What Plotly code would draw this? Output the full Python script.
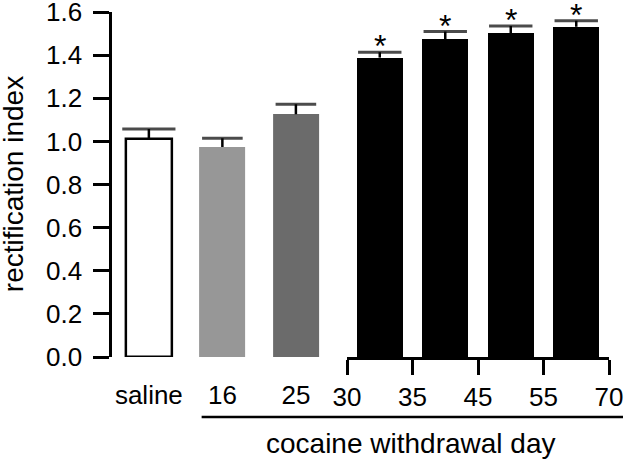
import plotly.graph_objects as go

# control group + early withdrawal days
ctrl_labels = ["saline", "16", "25"]
ctrl_mean = [1.011, 0.974, 1.126]
ctrl_sem = [0.047, 0.041, 0.046]

# late withdrawal: bars sit between the day ticks
late_days = [30, 35, 45, 55, 70]
late_mean = [1.389, 1.473, 1.501, 1.532]
late_sem = [0.025, 0.037, 0.035, 0.028]
late_sig = ["*", "*", "*", "*"]

y_ticks = [0.0, 0.2, 0.4, 0.6, 0.8, 1.0, 1.2, 1.4, 1.6]

FONT = "Liberation Sans, Arial, sans-serif"
ctrl_colors = ["white", "#979797", "#6b6b6b"]
ctrl_lines = ["black", "#979797", "#6b6b6b"]
ctrl_line_w = [2.5, 0, 0]
ctrl_caps = [38, 29, 29]

late_x = [i + 0.5 for i in range(len(late_mean))]

fig = go.Figure()

fig.add_trace(go.Bar(
    x=ctrl_labels, y=ctrl_mean, width=0.625,
    marker=dict(color=ctrl_colors, line=dict(color=ctrl_lines, width=ctrl_line_w)),
    xaxis="x", yaxis="y", showlegend=False, cliponaxis=False,
))
fig.add_trace(go.Bar(
    x=late_x, y=late_mean, width=0.70,
    marker=dict(color="black", line=dict(width=0)),
    xaxis="x2", yaxis="y", showlegend=False, cliponaxis=False,
))


def stems(xs, means, sems):
    sx, sy = [], []
    for x, m, s in zip(xs, means, sems):
        sx += [x, x, None]
        sy += [m, m + s, None]
    return sx, sy


for xs, means, sems, caps, ax in [
    (ctrl_labels, ctrl_mean, ctrl_sem, ctrl_caps, "x"),
    (late_x, late_mean, late_sem, [31] * len(late_mean), "x2"),
]:
    sx, sy = stems(xs, means, sems)
    fig.add_trace(go.Scatter(
        x=sx, y=sy, mode="lines", line=dict(color="black", width=2.5),
        xaxis=ax, yaxis="y", showlegend=False, cliponaxis=False, hoverinfo="skip",
    ))
    fig.add_trace(go.Scatter(
        x=xs, y=[m + s for m, s in zip(means, sems)], mode="markers",
        marker=dict(symbol="line-ew", size=caps, line=dict(color="black", width=3)),
        xaxis=ax, yaxis="y", showlegend=False, cliponaxis=False, hoverinfo="skip",
    ))

# significance stars
for x, m, s, t in zip(late_x, late_mean, late_sem, late_sig):
    fig.add_annotation(
        x=x, y=m + s, xref="x2", yref="y", text=t, showarrow=False,
        yanchor="middle", yshift=6,
        font=dict(family=FONT, size=32, color="black"),
    )

tickfont = dict(family=FONT, size=26, color="black")

fig.update_layout(
    width=630, height=462,
    margin=dict(l=98, r=21, t=12, b=105),
    paper_bgcolor="white", plot_bgcolor="white",
    font=dict(family=FONT, color="black"),
    bargap=0,
    xaxis=dict(
        domain=[0.0276, 0.4592], range=[-0.5, 2.5], type="category",
        showline=False, showgrid=False, zeroline=False,
        ticks="outside", ticklen=15, tickcolor="rgba(0,0,0,0)",
        tickfont=tickfont, anchor="y", automargin=False,
        ticklabeloverflow="allow",
    ),
    xaxis2=dict(
        domain=[0.4873, 1.0], range=[0, len(late_days) - 1],
        tickmode="array", tickvals=list(range(len(late_days))),
        ticktext=[str(d) for d in late_days],
        showline=True, linecolor="black", linewidth=2.5,
        ticks="outside", ticklen=15, tickwidth=2.5, tickcolor="black",
        showgrid=False, zeroline=False, tickfont=tickfont, anchor="y",
        automargin=False, ticklabeloverflow="allow",
    ),
    yaxis=dict(
        range=[0, 1.6005], tickmode="array", tickvals=y_ticks,
        ticktext=[f"{v:.1f}" for v in y_ticks],
        showline=True, linecolor="black", linewidth=2.5,
        ticks="outside", ticklen=16, tickwidth=2.5, tickcolor="black",
        ticklabelstandoff=6, ticklabeloverflow="allow",
        showgrid=False, zeroline=False, tickfont=tickfont, automargin=False,
    ),
)

# y title
fig.add_annotation(
    text="rectification index", xref="paper", yref="paper",
    x=-0.165, y=0.5, textangle=-90, showarrow=False,
    xanchor="center", yanchor="middle",
    font=dict(family=FONT, size=28, color="black"),
)

# bracket for the cocaine groups
fig.add_shape(
    type="line", xref="paper", yref="paper",
    x0=0.2028, x1=1.0274, y0=-0.1742, y1=-0.1742,
    line=dict(color="black", width=2.5),
)
fig.add_annotation(
    text="cocaine withdrawal day", xref="paper", yref="paper",
    x=0.6135, y=-0.2506, showarrow=False,
    xanchor="center", yanchor="middle",
    font=dict(family=FONT, size=28, color="black"),
)

fig.write_html("out.html", config={"displayModeBar": False},
               post_script="document.body.style.margin='0';")
